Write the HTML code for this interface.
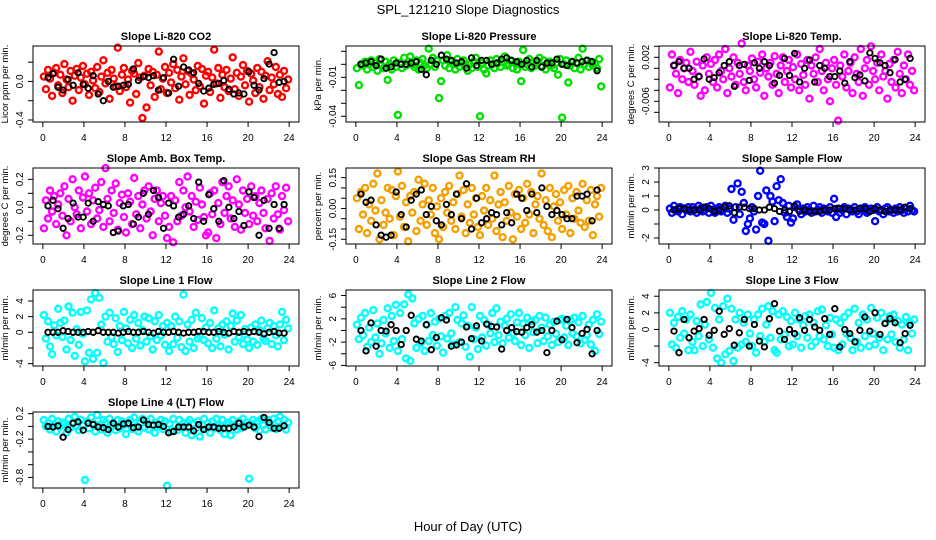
<!DOCTYPE html>
<html><head><meta charset="utf-8"><style>
html,body{margin:0;padding:0;background:#fff;}
svg{display:block;font-family:"Liberation Sans",Arial,sans-serif;}
</style></head><body>
<svg id="fig" width="936" height="540" viewBox="0 0 936 540" xmlns="http://www.w3.org/2000/svg">
<text x="468" y="14" text-anchor="middle" font-size="13">SPL_121210  Slope Diagnostics</text>
<text x="468" y="531" text-anchor="middle" font-size="13">Hour of Day (UTC)</text>
</svg>
<script>
// ---- data (colored series: 120 samples over 0-24 h; black series: 48 samples every 0.5 h) ----
const co2Vals = [5,-8,12,3,-15,9,14,-4,7,-12, 18,2,-6,11,-20,6,13,-9,4,16, -3,8,-14,10,1,-7,15,-11,5,22, -2,9,-18,12,3,-5,35,-10,7,14, -6,2,-22,11,8,-13,19,4,-38,6, -27,13,-4,10,-16,7,31,-8,3,15, -12,9,-1,18,-7,12,-19,5,24,-3, 11,-14,8,2,-9,16,-5,13,-23,6, 10,-11,4,33,-2,14,-17,7,-6,12, -10,3,25,-8,9,-15,5,17,-4,11, -21,8,1,-12,14,-6,10,-18,6,21, -9,4,-3,15,-13,7,-16,11,-7,2].map(v=>v/100);
const co2Black = [4,8,-6,-9,2,-4,9,-3,-7,6,-13,-20,0,-6,-5,-4,-3,13,1,5,4,6,-9,4,-12,23,-5,15,12,9,-2,-10,-7,-3,-2,1,-8,-13,-12,-13,10,-4,-9,3,18,30,-1,0].map(v=>v/100);
const presVals = [-3,-16,0,-1,2,-4,0,3,-2,1, -5,4,-1,-3,2,-12,0,-4,3,-2, -39,1,-3,5,-1,2,6,0,-2,3, -4,1,4,-1,-3,12,0,5,-2,3, -26,-13,3,-1,7,-3,2,0,-4,4, -2,1,3,-1,-5,0,-3,2,5,-2, -40,1,-4,-7,-1,3,0,-3,4,1, -2,2,6,-1,0,3,-3,1,-4,2, -13,11,-2,0,4,-3,2,-1,1,5, -2,3,-4,0,2,-1,-3,1,-8,4, -41,0,3,-14,-1,2,-3,1,5,-4, 12,0,3,-2,2,-1,1,-3,4,-17].map(v=>v/1000);
const presBlack = [0,1,2,-1,4,-3,-2,1,0,0,1,2,-4,-8,3,0,7,4,3,1,2,-3,5,-1,3,3,0,1,4,5,3,2,0,3,-2,3,-2,1,1,4,0,-1,2,1,2,3,2,-5].map(v=>v/1000);
const tempVals = [-35,25,5,-10,-45,15,-20,0,10,-25, 30,-5,-30,12,-15,-50,5,-40,20,-10, 8,-25,15,-35,25,-5,-20,35,-45,0, -15,20,-30,10,-10,45,-25,-40,5,-5, 18,-20,-35,12,-8,25,-50,0,-15,10, -30,22,-10,-45,5,20,-25,-5,15,-35, 2,-20,25,-40,8,-12,-30,15,-55,5, -10,20,-25,35,-5,-40,10,-20,-60,0, 15,-30,-95,5,-15,25,-35,-5,10,-45, 20,-10,-25,35,-50,0,15,-30,40,-5, -20,10,-40,25,-15,-5,-55,8,-25,15, -35,30,-10,-45,5,-20,25,-30,-5,-40].map(v=>v/10000);
const tempBlack = [5,12,0,0,-20,-15,17,-20,-17,-8,5,12,-33,5,7,-22,10,0,12,5,-27,-13,18,-13,27,-25,0,15,-25,5,0,-15,-15,-5,-27,12,-17,-12,-23,28,18,10,5,-8,16,-25,-20,18].map(v=>v/10000);
const ambVals = [-15,5,-8,12,-3,8,-12,2,10,-6, 15,-20,6,-10,20,0,-5,12,-15,7, 22,-3,10,-12,5,14,-8,-2,18,-14, 28,6,-10,12,-4,17,-16,3,9,-7, -18,10,4,-12,21,-5,8,-15,2,12, -8,15,-3,-20,6,12,-10,3,8,-6, -22,-14,8,-25,5,-10,18,-6,12,0, 22,-3,8,-14,4,-9,14,2,-7,-20, -18,10,-5,12,-22,3,-12,18,-4,8, 15,-8,5,-14,20,2,-16,12,-4,6, -12,15,-6,8,-10,3,12,-4,-15,6, -24,10,-8,15,-5,-16,8,-2,14,-10].map(v=>v/100);
const ambBlack = [1,5,-1,-15,-8,3,-7,-7,3,-10,4,2,1,-18,-17,1,2,-12,-7,10,-5,12,7,-15,3,1,-7,-5,1,-8,18,-10,9,-1,-10,19,0,-8,-3,-13,11,7,-20,5,-15,2,-15,2].map(v=>v/100);
const rhVals = [5,-10,8,-3,10,-12,2,-6,12,-1, 17,-15,4,-8,-2,10,-5,9,-13,6, 18,-4,11,-9,3,-16,6,-2,8,-11, 14,-6,2,12,-8,4,-3,10,-12,1, -15,5,-9,8,-2,11,-6,3,-10,7, 16,-4,9,-12,2,-7,10,-3,5,-9, -13,6,-1,10,-8,4,-5,16,-11,2, 8,-14,3,-6,11,-2,-15,7,-4,9, -10,5,-7,12,-3,8,-12,2,6,-5, 17,-8,4,-11,10,-14,1,7,-6,3, -10,9,-3,11,-12,5,-5,8,-1,-7, 12,-9,4,-6,9,-13,2,6,-4,10].map(v=>v/100);
const rhBlack = [7,3,4,-8,-13,-14,-13,8,-3,-9,4,7,9,-3,1,-6,-8,2,-3,7,-5,12,-10,5,-7,-5,-2,-3,-8,-2,-7,7,5,-1,7,-2,10,1,-3,-1,-3,-5,-5,6,6,7,-6,9].map(v=>v/100);
const sampleVals = [1,-2,3,0,-1,2,-3,1,0,2, -1,2,0,-2,3,1,-1,0,2,-2, 3,0,-2,1,2,-1,0,3,-2,1, 15,-7,2,19,-3,13,5,-15,-10,-6, 2,-1,-14,10,28,-9,-10,14,-22,10, 6,-8,17,7,22,5,-2,-5,3,-9, -6,2,4,0,-3,1,-1,2,0,-2, 3,-1,0,2,-2,1,0,-1,2,-2, 8,-5,1,-2,0,2,-3,1,0,-1, 2,-1,-3,1,0,2,-2,-1,1,0, -8,2,-1,0,-3,1,2,-1,0,-2, 1,-1,2,0,-2,1,-1,3,0,-1].map(v=>v/10);
const sampleBlack = [0,1,1,0,0,0,2,1,-1,0,2,3,-2,2,2,1,1,0,0,2,1,-1,0,-1,3,-1,0,-1,-1,-1,0,0,1,1,1,0,0,1,1,-1,1,0,-1,0,0,0,2,1].map(v=>v/10);
const line1Vals = [22,-8,14,-18,-28,9,-4,30,12,-6, 15,-22,33,-10,25,-30,4,-16,26,-2, -37,28,-26,42,-34,50,-26,44,10,-39, 20,-12,25,-6,-15,18,-25,8,-10,26, 5,-14,16,-20,22,-8,12,-17,3,20, -12,18,-5,-22,14,-10,22,-4,8,-16, 12,-24,8,-15,20,-7,14,-19,48,-24, 10,-12,16,-20,25,-8,-5,18,-10,6, -14,12,-20,28,-8,5,-18,10,-3,14, -22,8,24,-12,15,-6,22,-15,4,-9, -20,6,-12,10,-16,3,15,-8,-11,5, 12,-15,8,-4,-18,10,26,-10,16,5].map(v=>v/10);
const line1Black = [0,0,0,2,1,0,0,0,1,0,2,0,0,0,-1,0,1,0,0,1,0,-1,1,0,0,1,0,-1,0,0,1,1,0,0,1,0,-1,1,0,1,0,1,0,-2,0,1,-1,-1].map(v=>v/10);
const line2Vals = [10,-15,22,-8,30,-28,5,-20,35,-12, 12,-40,-22,18,-5,38,-30,25,-18,44, -35,30,-15,45,-48,62,-52,55,12,-30, 20,-22,25,-35,10,-18,30,-8,15,-26, 20,-10,-38,25,-14,30,-5,-24,40,18, -20,12,26,-28,8,-45,40,-15,5,-32, 25,-12,18,-26,10,-5,30,-20,38,-8, 15,-22,8,20,-12,28,-5,-18,14,30, -25,12,-8,22,-30,16,-3,18,-22,25, 5,-18,22,-10,10,-25,15,-6,-20,18, 20,-12,8,-25,18,-5,22,-10,14,-22, 25,-16,-8,10,-24,18,-35,28,-6,15].map(v=>v/10);
const line2Black = [0,-35,13,-27,0,-1,10,0,-24,0,26,-15,-18,10,-33,-12,22,18,-27,-25,-20,6,-14,8,-18,11,7,6,-32,0,5,-2,-3,5,10,-3,0,-38,0,16,-16,19,5,-21,-5,2,-40,0].map(v=>v/10);
const line3Vals = [20,-18,8,-22,15,-10,22,-5,12,-25, 18,-15,-25,10,-8,30,-20,6,33,-12, 44,-22,26,-35,12,-40,28,-30,37,-26, 25,-38,12,-22,20,-18,8,-15,18,-5, -20,12,-28,18,-8,25,-15,6,28,-10, 22,-25,-28,18,-12,22,-6,15,-20,10, -18,20,-8,12,-22,5,16,-10,18,-20, 8,-15,22,-8,24,-12,5,-20,14,-6, -22,12,-25,8,-18,15,-5,20,-10,-25, 25,-15,8,-22,18,-8,12,-20,26,-5, -18,14,-10,20,-25,8,-12,16,-6,18, -15,10,-22,6,-12,15,-25,8,-5,12].map(v=>v/10);
const line3Black = [-2,-28,12,-10,-2,1,12,-7,-1,22,-6,1,-19,-4,12,-20,6,-14,-21,13,31,-2,-12,0,-5,14,-1,12,3,-1,13,-6,25,-21,0,-5,-15,-1,15,-2,20,-6,7,13,8,-16,-5,5].map(v=>v/10);
const line4Vals = [10,0,5,-5,12,3,-8,8,0,6, 4,-10,12,-2,5,15,0,-6,10,2, -84,8,-3,14,5,-8,18,2,-5,10, 6,-10,12,0,4,-6,10,-3,8,2, -12,5,10,-4,14,0,-8,6,12,-2, 8,-5,12,3,-10,6,0,10,-4,8, -93,4,-8,12,2,-6,10,-2,5,-10, 6,10,-14,4,-3,8,-16,2,12,-4, 5,-10,8,-3,12,0,-6,10,-12,4, 6,-14,10,2,-5,8,-3,12,0,6, -82,4,10,-3,8,-6,12,2,-5,10, 6,-2,12,-4,8,15,0,10,-5,6].map(v=>v/100);
const line4Black = [0,-1,1,-17,-5,5,7,-6,5,3,-1,-2,-5,5,-1,4,5,-2,-1,10,3,2,3,0,-10,-8,-1,-1,-1,-7,3,-5,-1,-1,-3,-3,-3,-1,5,-1,2,-1,-16,14,6,-3,-3,1].map(v=>v/100);

const xTicks = [0,4,8,12,16,20,24];
const titles = ["Slope Li-820 CO2","Slope Li-820 Pressure","Slope Li-820 Temp.","Slope Amb. Box Temp.","Slope Gas Stream RH","Slope Sample Flow","Slope Line 1 Flow","Slope Line 2 Flow","Slope Line 3 Flow","Slope Line 4 (LT) Flow"];
const yTitles = ["Licor ppm per min.","kPa per min.","degrees C per min.","degrees C per min.","percent per min.","ml/min per min.","ml/min per min.","ml/min per min.","ml/min per min.","ml/min per min."];
const yTicks = [[-0.4,-0.2,0,0.2],[-0.04,-0.03,-0.02,-0.01,0,0.01],[-0.008,-0.006,-0.004,-0.002,0,0.002,0.004],[-0.2,-0.1,0,0.1,0.2],[-0.15,-0.1,-0.05,0,0.05,0.1,0.15],[-2,-1,0,1,2,3],[-4,-2,0,2,4],[-6,-4,-2,0,2,4,6],[-4,-2,0,2,4],[-0.8,-0.6,-0.4,-0.2,0,0.2]];
const yLabels = [{"-0.4":"-0.4","0":"0.0"},{"-0.04":"-0.04","-0.01":"-0.01"},{"0.002":"0.002","-0.006":"-0.006"},{"-0.2":"-0.2","0":"0.0","0.2":"0.2"},{"-0.15":"-0.15","0":"0.00","0.15":"0.15"},{"-2":"-2","0":"0","1":"1","2":"2","3":"3"},{"-4":"-4","0":"0","2":"2","4":"4"},{"-6":"-6","-2":"-2","2":"2","6":"6"},{"-4":"-4","0":"0","2":"2","4":"4"},{"-0.8":"-0.8","-0.2":"-0.2","0.2":"0.2"}];
const yDomains = [[-0.421,0.368],[-0.0444,0.0141],[-0.00976,0.00405],[-0.262,0.281],[-0.173,0.197],[-2.43,3.0],[-4.3,5.4],[-6.1,6.95],[-4.4,4.75],[-0.966,0.226]];
const colorSeries = [co2Vals,presVals,tempVals,ambVals,rhVals,sampleVals,line1Vals,line2Vals,line3Vals,line4Vals];
const blackSeries = [co2Black,presBlack,tempBlack,ambBlack,rhBlack,sampleBlack,line1Black,line2Black,line3Black,line4Black];
const colors = ["#ff0000","#00e000","#ff00ff","#ff00ff","#f5a000","#0000ff","#00ffff","#00ffff","#00ffff","#00ffff"];

// ---- layout ----
const colLeft=[33,346,659], rowTop=[46,168,290,412], W=266, H=76;
const NS="http://www.w3.org/2000/svg";
const svg=document.getElementById('fig');
function mk(tag,attrs,parent){const e=document.createElementNS(NS,tag);for(const k in attrs)e.setAttribute(k,attrs[k]);(parent||svg).appendChild(e);return e;}

titles.forEach((t,p)=>{
  const L=colLeft[p%3], T=rowTop[Math.floor(p/3)];
  const [y0,y1]=yDomains[p];
  const xs=h=>L+(h+0.96)/25.92*W;
  const ys=v=>T+H-(v-y0)/(y1-y0)*H;
  const g=mk('g',{});
  
  
  const ti=mk('text',{x:L+W/2,y:T-6,'text-anchor':'middle','font-size':11,'font-weight':'bold'},g);ti.textContent=t;
  
  
  const pts=mk('g',{fill:'none'},g);
  
  
  const cs=colorSeries[p];
  cs.forEach((v,i)=>{const h=(i+0.5)*24/cs.length;
    const c=mk('circle',{cx:xs(h).toFixed(1),cy:ys(v).toFixed(1),r:3,stroke:colors[p],'stroke-width':2.4},pts);
    
    });
  const bp=mk('g',{fill:'none'},g);
  
  
  blackSeries[p].forEach((v,i)=>{const h=0.5+i*0.5*(23.5/24);
    const c=mk('circle',{cx:xs(h).toFixed(1),cy:ys(v).toFixed(1),r:2.7,stroke:'#000','stroke-width':1.9},bp);
    
    });
  const b=mk('rect',{x:L,y:T,width:W,height:H,fill:'none',stroke:'#000','stroke-width':1},g);
  
  
  const xa=mk('g',{},g);
  
  
  mk('line',{x1:xs(0),x2:xs(24),y1:T+H,y2:T+H,stroke:'#000'},xa);
  xTicks.forEach(h=>{mk('line',{x1:xs(h),x2:xs(h),y1:T+H,y2:T+H+5,stroke:'#000'},xa);
    const tx=mk('text',{x:xs(h),y:T+H+19,'text-anchor':'middle','font-size':10},xa);tx.textContent=h;
    
    });
  const ya=mk('g',{},g);
  
  
  const yt=yTicks[p];
  mk('line',{x1:L,x2:L,y1:ys(yt[0]),y2:ys(yt[yt.length-1]),stroke:'#000'},ya);
  yt.forEach(v=>{mk('line',{x1:L-5,x2:L,y1:ys(v),y2:ys(v),stroke:'#000'},ya);
    const lab=yLabels[p][String(v)];
    if(lab!==undefined){const tx=mk('text',{x:L-10,y:ys(v),'text-anchor':'middle','font-size':10,transform:`rotate(-90 ${L-10} ${ys(v)})`},ya);tx.textContent=lab;
      
      }});
  const yT=mk('text',{x:L-25,y:T+H/2,'text-anchor':'middle','font-size':9.5,transform:`rotate(-90 ${L-25} ${T+H/2})`},g);yT.textContent=yTitles[p];
  
  
});
</script>
</body></html>
